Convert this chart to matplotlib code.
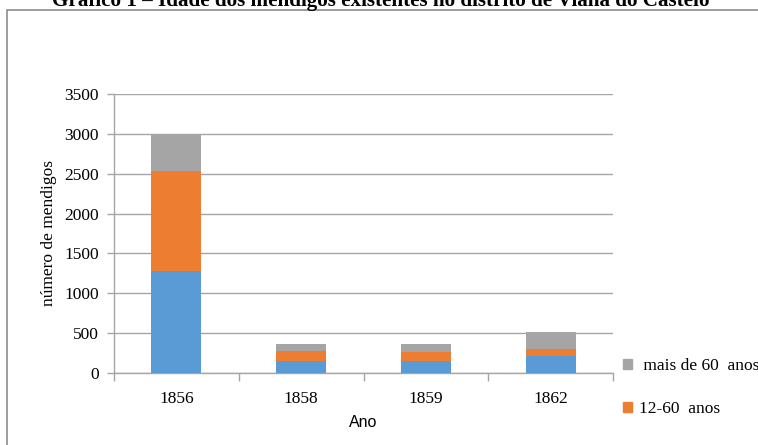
import matplotlib
matplotlib.use("Agg")
import matplotlib.pyplot as plt
import numpy as np
from matplotlib.patches import Rectangle, Patch

# data
anos = ['1856', '1858', '1859', '1862']
idade_0_12 = [1280, 150, 150, 218]
idade_12_60 = [1250, 122, 118, 82]
idade_60_mais = [450, 96, 100, 218]

titulo = 'Gráfico 1 – Idade dos mendigos existentes no distrito de Viana do Castelo'
# only the two upper legend rows fit inside the picture
labels = [' mais de 60  anos', '12-60  anos']

c_azul = '#5B9BD5'
c_laranja = '#ED7D31'
c_cinza = '#A5A5A5'
c_grid = '#A6A6A6'

W, H = 758, 445
fig = plt.figure(figsize=(W/100, H/100), dpi=100)

# outer chart border (runs off the right/bottom of the picture)
fig.patches.append(Rectangle((7/W, -0.1), 1.2, 1.1 - 10/H, transform=fig.transFigure,
                             fill=False, edgecolor='#8C8C8C', lw=1.2))

fig.text(381/W, 1 - 6/H, titulo, ha='center', va='baseline',
         family='Liberation Serif', fontweight='bold', fontsize=15.2)

ax = fig.add_axes([114/W, 1 - 373/H, (613-114)/W, (373-94)/H])

x = np.arange(len(anos))
w = 0.4
ax.bar(x, idade_0_12, w, color=c_azul, zorder=3)
ax.bar(x, idade_12_60, w, bottom=idade_0_12, color=c_laranja, zorder=3)
base3 = np.array(idade_0_12) + np.array(idade_12_60)
ax.bar(x, idade_60_mais, w, bottom=base3, color=c_cinza, zorder=3)

ax.set_xlim(-0.5, len(anos) - 0.5)
ax.set_ylim(0, 3500)
ax.set_yticks(np.arange(0, 3501, 500))
ax.yaxis.grid(True, color=c_grid, lw=1, zorder=0)

# category boundaries as major ticks, names as minor ticks
ax.set_xticks(np.arange(-0.5, len(anos), 1))
ax.set_xticklabels([])
ax.set_xticks(x, minor=True)
ax.set_xticklabels(anos, minor=True)
ax.tick_params(axis='x', which='minor', length=0, pad=13)
ax.tick_params(axis='x', which='major', length=6, color=c_grid, width=1)
ax.tick_params(axis='y', length=5, color=c_grid, width=1, pad=6)

for lab in ax.get_xticklabels(minor=True) + ax.get_yticklabels():
    lab.set_family('Liberation Serif')
    lab.set_fontsize(12.5)

for s in ['top', 'right']:
    ax.spines[s].set_visible(False)
for s in ['left', 'bottom']:
    ax.spines[s].set_color(c_grid)
    ax.spines[s].set_linewidth(1)

ax.set_ylabel('número de mendigos', family='Liberation Serif', fontsize=12.5, labelpad=5)
ax.set_xlabel('Ano', family='Liberation Sans', fontsize=11.5, labelpad=5.5)

handles = [Patch(color=c_cinza), Patch(color=c_laranja)]
fig.legend(handles, labels, loc='upper left', bbox_to_anchor=(623/W, 1 - 358/H),
           frameon=False, prop={'family': 'Liberation Serif', 'size': 12.5},
           handlelength=0.5, handleheight=0.5, handletextpad=0.4,
           labelspacing=1.55, borderaxespad=0, borderpad=0)

fig.savefig('out.png', dpi=100)
